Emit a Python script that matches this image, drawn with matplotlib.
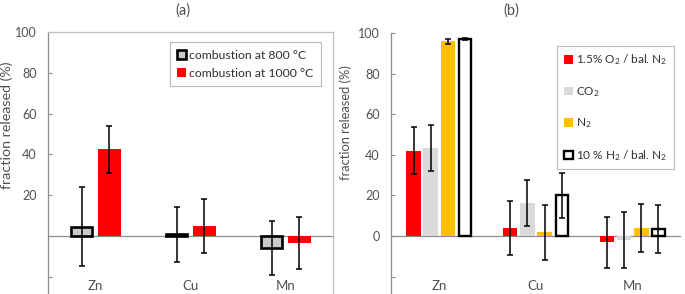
import numpy as np
import matplotlib
matplotlib.use('Agg')
import matplotlib.pyplot as plt
from matplotlib.patches import Patch

plt.rcParams['font.family'] = ['Lato', 'DejaVu Sans']
plt.rcParams['mathtext.default'] = 'regular'

# data
elements = ['Zn', 'Cu', 'Mn']

# panel (a): combustion temperature
comb_800 = [4.6, 0.7, -5.8]
comb_800_err = [19.2, 13.6, 13.3]
comb_1000 = [42.4, 4.7, -3.4]
comb_1000_err = [11.5, 13.2, 12.6]

# panel (b): atmosphere
o2 = [42.1, 4.0, -3.1]
o2_err = [11.5, 13.2, 12.6]
co2 = [43.5, 16.2, -1.7]
co2_err = [11.3, 11.4, 13.8]
n2 = [96.0, 1.8, 4.0]
n2_err = [1.2, 13.6, 11.7]
h2 = [97.0, 20.0, 3.5]
h2_err = [0.5, 11.0, 12.0]

RED = '#ff0000'
GRAY_A = '#c9c9c9'
GRAY_B = '#d9d9d9'
YELLOW = '#ffc000'
AXGRAY = '#8c8c8c'
TXT = '#505050'

fig = plt.figure(figsize=(6.85, 2.94), dpi=100)
ax1 = fig.add_axes([48 / 685, 0, 285 / 685, 262 / 294])
ax2 = fig.add_axes([391 / 685, 0, 290 / 685, 261 / 294])

x = np.arange(len(elements))
ekw = dict(ecolor='black', elinewidth=1.1, capsize=2.2, capthick=1.1)


def style_axis(ax, show_zero, frame, ylab_fs, ylab_xy):
    ax.set_xlim(-0.5, 2.5)
    ax.set_ylim(-28.5, 100)
    ticks = [-20, 0, 20, 40, 60, 80, 100]
    labels = ['', '0' if show_zero else '', '20', '40', '60', '80', '100']
    ax.set_yticks(ticks)
    ax.set_yticklabels(labels)
    ax.tick_params(axis='y', direction='in', length=3, color=AXGRAY,
                   labelsize=9, labelcolor=TXT, pad=8)
    ax.set_xticks([])
    ax.axhline(0, color=AXGRAY, lw=0.9, zorder=1)
    ax.spines['bottom'].set_visible(False)
    ax.spines['left'].set_color(AXGRAY)
    ax.spines['left'].set_linewidth(0.9)
    for s in ['top', 'right']:
        ax.spines[s].set_visible(frame)
        ax.spines[s].set_color('#bfbfbf')
        ax.spines[s].set_linewidth(0.9)
    ax.set_ylabel('fraction released (%)', fontsize=ylab_fs, color=TXT)
    ax.yaxis.set_label_coords(*ylab_xy)
    for i, el in enumerate(elements):
        ax.text(i, -24.5, el, ha='center', va='center', fontsize=9.5, color=TXT)


# panel (a)
ax1.bar(x - 0.147, comb_800, 0.22, color=GRAY_A, edgecolor='black', linewidth=1.9,
        yerr=comb_800_err, error_kw=ekw, zorder=3)
ax1.bar(x + 0.147, comb_1000, 0.245, color=RED, linewidth=0,
        yerr=comb_1000_err, error_kw=ekw, zorder=3)
style_axis(ax1, False, True, 10.3, (-0.123, 0.645))
h_a = [Patch(facecolor=GRAY_A, edgecolor='black', linewidth=1.9),
       Patch(facecolor=RED, edgecolor='none')]
leg = ax1.legend(h_a, ['combustion at 800 °C', 'combustion at 1000 °C'],
                 loc='upper right', bbox_to_anchor=(0.958, 0.96), fontsize=8.8,
                 frameon=True, fancybox=False, edgecolor='#a6a6a6',
                 handlelength=0.75, handleheight=0.75, handletextpad=0.25,
                 labelspacing=0.55, borderpad=0.6, borderaxespad=0)
leg.get_frame().set_linewidth(0.8)
for t in leg.get_texts():
    t.set_color('#303030')

# panel (b)
wb = 0.15
off = 0.178
ax2.bar(x - 1.5 * off, o2, wb, color=RED, linewidth=0,
        yerr=o2_err, error_kw=ekw, zorder=3)
ax2.bar(x - 0.5 * off, co2, wb, color=GRAY_B, linewidth=0,
        yerr=co2_err, error_kw=ekw, zorder=3)
ax2.bar(x + 0.5 * off, n2, wb, color=YELLOW, linewidth=0,
        yerr=n2_err, error_kw=ekw, zorder=3)
ax2.bar(x + 1.5 * off, h2, wb - 0.02, color='white', edgecolor='black', linewidth=1.7,
        yerr=h2_err, error_kw=ekw, zorder=3)
style_axis(ax2, True, False, 9.3, (-0.134, 0.655))
h_b = [Patch(facecolor=RED, edgecolor='none'),
       Patch(facecolor=GRAY_B, edgecolor='none'),
       Patch(facecolor=YELLOW, edgecolor='none'),
       Patch(facecolor='white', edgecolor='black', linewidth=1.7)]
lab_b = ['1.5% O$_2$ / bal. N$_2$', 'CO$_2$', 'N$_2$', '10 % H$_2$ / bal. N$_2$']
leg2 = ax2.legend(h_b, lab_b, loc='upper right', bbox_to_anchor=(0.976, 0.95),
                  fontsize=8.5, frameon=True, fancybox=False, edgecolor='#a6a6a6',
                  handlelength=0.75, handleheight=0.75, handletextpad=0.3,
                  labelspacing=1.5, borderpad=0.55, borderaxespad=0)
leg2.get_frame().set_linewidth(0.8)
for t in leg2.get_texts():
    t.set_color('#303030')

fig.text(183 / 685, 1 - 11 / 294, '(a)', ha='center', va='center', fontsize=10.5, color=TXT)
fig.text(511 / 685, 1 - 11 / 294, '(b)', ha='center', va='center', fontsize=10.5, color=TXT)

fig.savefig('out.png', dpi=100)
